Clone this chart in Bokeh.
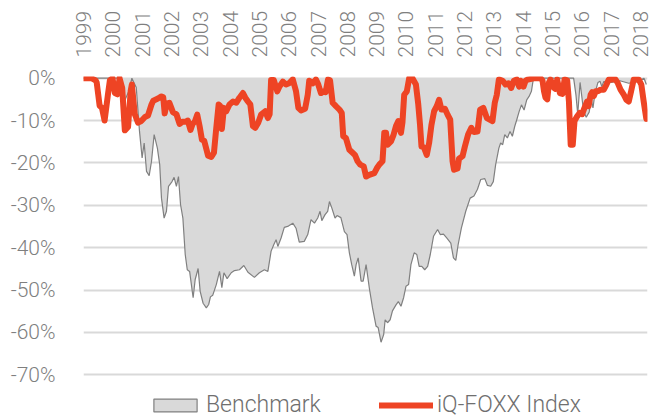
import numpy as np
from bokeh.plotting import figure
from bokeh.models import (ColumnDataSource, FixedTicker, Legend, LegendItem, Range1d)
from bokeh.embed import file_html
from bokeh.resources import INLINE

# ---- data (drawdown, %) ----
years = list(range(1999, 2019))
year_labels = [str(y) for y in years]
pct_ticks = [0, -10, -20, -30, -40, -50, -60, -70]
pct_labels = ["0%", "-10%", "-20%", "-30%", "-40%", "-50%", "-60%", "-70%"]

bench_t = [1999.00, 2000.25, 2000.40, 2000.55, 2000.65, 2000.80, 2000.91, 2001.00, 2001.07, 2001.15,
           2001.24, 2001.32, 2001.41, 2001.52, 2001.60, 2001.66, 2001.75, 2001.83, 2001.90, 2002.02,
           2002.09, 2002.17, 2002.24, 2002.31, 2002.39, 2002.47, 2002.54, 2002.62, 2002.74, 2002.81,
           2002.91, 2002.98, 2003.08, 2003.19, 2003.27, 2003.33, 2003.41, 2003.53, 2003.64, 2003.72,
           2003.79, 2003.90, 2004.04, 2004.15, 2004.32, 2004.47, 2004.61, 2004.83, 2005.00, 2005.17,
           2005.29, 2005.40, 2005.49, 2005.57, 2005.63, 2005.74, 2005.85, 2005.99, 2006.14, 2006.25,
           2006.36, 2006.53, 2006.65, 2006.76, 2006.88, 2006.99, 2007.07, 2007.13, 2007.24, 2007.33,
           2007.39, 2007.47, 2007.58, 2007.65, 2007.78, 2007.90, 2007.99, 2008.07, 2008.15, 2008.24,
           2008.30, 2008.37, 2008.47, 2008.54, 2008.64, 2008.75, 2008.86, 2008.98, 2009.05, 2009.15,
           2009.24, 2009.29, 2009.37, 2009.46, 2009.54, 2009.66, 2009.74, 2009.83, 2009.92, 2010.00,
           2010.09, 2010.17, 2010.28, 2010.37, 2010.45, 2010.54, 2010.64, 2010.74, 2010.83, 2010.94,
           2011.08, 2011.17, 2011.28, 2011.39, 2011.53, 2011.62, 2011.70, 2011.78, 2011.89, 2012.04,
           2012.19, 2012.32, 2012.44, 2012.55, 2012.69, 2012.78, 2012.89, 2012.98, 2013.06, 2013.17,
           2013.23, 2013.30, 2013.37, 2013.46, 2013.55, 2013.63, 2013.71, 2013.78, 2013.86, 2013.94,
           2014.03, 2014.12, 2014.20, 2014.28, 2014.35, 2015.72, 2015.80, 2015.86, 2015.94, 2016.06,
           2016.15, 2016.25, 2016.32, 2016.38, 2016.45, 2016.55, 2016.62, 2016.68, 2016.75, 2017.00,
           2017.30, 2017.60, 2017.90, 2018.12, 2018.20]
bench_v = [0.0, 0.0, -5.4, -3.0, 0.0, -2.2, -12.5, -18.8, -15.3, -22.0,
           -23.0, -19.6, -13.3, -16.5, -20.4, -28.3, -33.0, -31.4, -25.5, -24.4,
           -23.4, -25.5, -23.2, -29.8, -33.0, -41.6, -45.2, -45.6, -51.8, -47.5,
           -44.9, -50.3, -53.1, -54.2, -53.4, -51.6, -51.2, -48.7, -45.6, -49.4,
           -45.9, -47.3, -45.9, -45.4, -45.2, -44.2, -45.8, -47.0, -45.9, -45.2,
           -45.6, -40.8, -39.3, -38.1, -39.7, -37.7, -35.2, -34.9, -34.2, -35.4,
           -38.7, -38.5, -36.9, -33.4, -34.2, -33.0, -31.4, -33.6, -32.2, -31.4,
           -29.1, -30.6, -33.0, -32.4, -32.9, -36.2, -36.9, -41.2, -44.0, -46.7,
           -44.0, -42.4, -47.9, -47.9, -44.0, -49.5, -54.2, -58.5, -58.8, -62.3,
           -60.5, -57.0, -57.7, -57.0, -54.9, -53.5, -52.7, -53.8, -51.8, -49.1,
           -48.7, -44.0, -41.2, -41.6, -44.4, -44.4, -45.2, -44.4, -41.6, -37.3,
           -35.7, -36.9, -36.8, -37.7, -38.9, -42.4, -43.0, -39.3, -35.4, -31.4,
           -28.3, -27.8, -26.2, -23.9, -23.7, -25.3, -25.5, -24.4, -20.4, -16.5,
           -15.3, -15.7, -13.3, -14.1, -12.6, -13.7, -11.4, -9.8, -7.9, -6.3,
           -7.5, -5.1, -4.3, -3.1, 0.0, 0.0, -4.0, -8.5, -1.0, -7.8,
           -9.2, -8.0, -5.0, -7.0, -3.5, -1.0, -0.7, -2.0, -0.8, -1.0,
           -0.6, -1.2, -0.8, 0.0, -1.5]

foxx_t = [1999.00, 1999.27, 1999.41, 1999.45, 1999.55, 1999.63, 1999.72, 1999.84, 1999.90, 1999.99,
          2000.07, 2000.16, 2000.23, 2000.32, 2000.41, 2000.52, 2000.61, 2000.65, 2000.75, 2000.86,
          2000.97, 2001.09, 2001.20, 2001.32, 2001.38, 2001.54, 2001.66, 2001.72, 2001.77, 2001.84,
          2001.93, 2002.05, 2002.17, 2002.28, 2002.37, 2002.47, 2002.56, 2002.65, 2002.72, 2002.80,
          2002.88, 2002.96, 2003.04, 2003.12, 2003.25, 2003.36, 2003.45, 2003.53, 2003.61, 2003.66,
          2003.72, 2003.79, 2003.87, 2003.98, 2004.10, 2004.21, 2004.32, 2004.44, 2004.52, 2004.61,
          2004.69, 2004.78, 2004.86, 2004.96, 2005.06, 2005.20, 2005.29, 2005.35, 2005.40, 2005.49,
          2005.61, 2005.68, 2005.80, 2005.91, 2006.01, 2006.14, 2006.25, 2006.33, 2006.42, 2006.56,
          2006.65, 2006.70, 2006.82, 2006.93, 2007.01, 2007.10, 2007.20, 2007.26, 2007.34, 2007.41,
          2007.50, 2007.61, 2007.73, 2007.81, 2007.86, 2007.95, 2008.07, 2008.18, 2008.26, 2008.35,
          2008.44, 2008.56, 2008.64, 2008.75, 2008.92, 2009.01, 2009.09, 2009.20, 2009.26, 2009.32,
          2009.37, 2009.49, 2009.58, 2009.66, 2009.74, 2009.83, 2009.88, 2009.94, 2010.03, 2010.11,
          2010.22, 2010.34, 2010.42, 2010.48, 2010.53, 2010.61, 2010.71, 2010.79, 2010.87, 2010.96,
          2011.05, 2011.13, 2011.21, 2011.33, 2011.42, 2011.51, 2011.59, 2011.64, 2011.76, 2011.81,
          2011.93, 2012.01, 2012.12, 2012.23, 2012.32, 2012.44, 2012.53, 2012.64, 2012.76, 2012.87,
          2012.95, 2013.03, 2013.10, 2013.17, 2013.30, 2013.40, 2013.50, 2013.59, 2013.68, 2013.78,
          2013.86, 2013.91, 2014.01, 2014.08, 2014.16, 2014.36, 2014.59, 2014.66, 2014.71, 2014.76,
          2014.82, 2014.88, 2014.93, 2015.05, 2015.10, 2015.16, 2015.25, 2015.34, 2015.41, 2015.50,
          2015.56, 2015.62, 2015.69, 2015.75, 2015.84, 2015.93, 2016.01, 2016.09, 2016.18, 2016.23,
          2016.30, 2016.35, 2016.41, 2016.47, 2016.55, 2016.64, 2016.75, 2016.84, 2016.92, 2017.05,
          2017.15, 2017.23, 2017.32, 2017.43, 2017.52, 2017.60, 2017.68, 2017.77, 2017.94, 2018.03,
          2018.11, 2018.20]
foxx_v = [0.0, 0.0, -0.5, -1.0, -6.5, -7.0, -10.0, -3.5, -0.5, 0.0,
          -3.5, -3.8, 0.0, -2.3, -12.3, -11.5, -3.0, -1.5, -8.5, -10.5,
          -10.1, -9.2, -8.8, -6.2, -5.3, -4.8, -4.3, -4.5, -8.3, -6.0,
          -5.8, -8.0, -8.5, -10.8, -10.3, -10.3, -10.0, -12.2, -10.8, -10.2,
          -8.6, -11.3, -14.5, -14.8, -18.3, -18.6, -17.6, -11.7, -6.2, -6.5,
          -12.0, -7.0, -7.8, -6.2, -5.5, -5.8, -4.6, -3.5, -4.6, -5.5,
          -6.2, -11.3, -11.7, -10.5, -8.6, -7.8, -9.4, -8.5, -0.4, -0.4,
          -3.1, -2.0, -0.8, -1.5, -1.2, -0.3, -3.1, -7.0, -7.6, -7.2,
          -3.9, -0.6, -1.2, -0.3, -1.5, -3.5, -3.1, -3.3, -0.3, -0.5,
          -5.8, -6.6, -7.4, -8.2, -13.7, -14.1, -16.9, -17.6, -18.1, -19.6,
          -20.4, -20.8, -23.2, -22.8, -22.4, -21.2, -20.4, -19.6, -12.9, -12.9,
          -15.7, -14.9, -13.3, -11.3, -10.1, -12.9, -10.5, -3.9, -3.1, 0.0,
          0.0, -1.5, -6.2, -11.0, -16.1, -16.3, -18.1, -15.3, -11.0, -7.8,
          -6.6, -5.1, -7.4, -7.2, -8.6, -9.8, -19.6, -21.6, -21.3, -19.0,
          -18.4, -16.1, -13.3, -11.7, -12.7, -12.6, -7.4, -7.0, -9.4, -9.8,
          -10.1, -5.8, -3.9, -0.3, -0.6, -1.5, -1.2, -2.3, -0.6, -0.3,
          -2.0, -0.6, -2.0, -0.6, -0.3, 0.0, 0.0, -0.6, -3.1, -4.6,
          -5.0, -1.0, -0.3, -2.3, -2.5, -0.3, -3.5, -3.7, -0.3, -0.5,
          -5.5, -15.7, -15.7, -10.1, -9.0, -8.2, -8.5, -7.0, -5.5, -6.6,
          -3.9, -3.3, -4.2, -3.1, -3.1, -2.7, -2.7, -1.5, -0.3, -0.3,
          -0.3, -1.2, -2.7, -3.9, -5.1, -5.5, -3.1, -0.3, -0.3, -1.5,
          -5.5, -9.6]

FONT = "Roboto Light, Roboto"
GREY_TXT = "#7f7f7f"

bench_src = ColumnDataSource(dict(t=bench_t, v=bench_v, zero=[0.0] * len(bench_t)))
foxx_src = ColumnDataSource(dict(t=foxx_t, v=foxx_v))

# frame extends below -70% so that the legend fits inside it
p = figure(width=652, height=420, output_backend="svg", toolbar_location=None,
           x_axis_location="above",
           x_range=Range1d(1999.0, 2018.24), y_range=Range1d(-80.77, 0.4),
           min_border_left=83, min_border_right=5, min_border_top=76, min_border_bottom=0)
p.outline_line_color = None
p.background_fill_color = "white"
p.border_fill_color = "white"

area = p.varea(x="t", y1="zero", y2="v", source=bench_src, fill_color="#d9d9d9")
p.line(x="t", y="v", source=bench_src, line_color="#808080", line_width=1.2)
# legend-only swatch (no visible data)
nan = np.array([np.nan])
swatch = p.quad(left=nan, right=nan, top=nan, bottom=nan, fill_color="#d9d9d9",
                line_color="#808080", line_width=1.2)
red = p.line(x="t", y="v", source=foxx_src, line_color="#EE4424", line_width=6,
             line_join="round", line_cap="round")

# axes
xa = p.xaxis[0]
xa.ticker = FixedTicker(ticks=years)
xa.major_label_overrides = {y: l for y, l in zip(years, year_labels)}
xa.major_label_orientation = "vertical"
xa.axis_line_color = None
xa.major_tick_line_color = None
xa.minor_tick_line_color = None
xa.major_label_text_font = FONT
xa.major_label_text_font_size = "21px"
xa.major_label_text_color = GREY_TXT
xa.major_label_standoff = 13

ya = p.yaxis[0]
ya.ticker = FixedTicker(ticks=pct_ticks)
ya.major_label_overrides = {t: l for t, l in zip(pct_ticks, pct_labels)}
ya.axis_line_color = None
ya.major_tick_line_color = None
ya.minor_tick_line_color = None
ya.major_label_text_font = FONT
ya.major_label_text_font_size = "21px"
ya.major_label_text_color = GREY_TXT
ya.major_label_standoff = 22

p.xgrid.grid_line_color = None
p.ygrid.grid_line_color = "#d9d9d9"
p.ygrid.grid_line_width = 2

legend = Legend(items=[LegendItem(label="Benchmark", renderers=[swatch]),
                       LegendItem(label="iQ-FOXX Index", renderers=[red])],
                orientation="horizontal", location=(65, 2),
                glyph_width=54, glyph_height=16, label_standoff=4, spacing=58,
                padding=0, margin=0, border_line_color=None, background_fill_alpha=0,
                label_text_font=FONT, label_text_font_size="23px", label_text_color="#6f6f6f")
p.add_layout(legend)

open("out.html", "w").write(file_html(p, INLINE))
